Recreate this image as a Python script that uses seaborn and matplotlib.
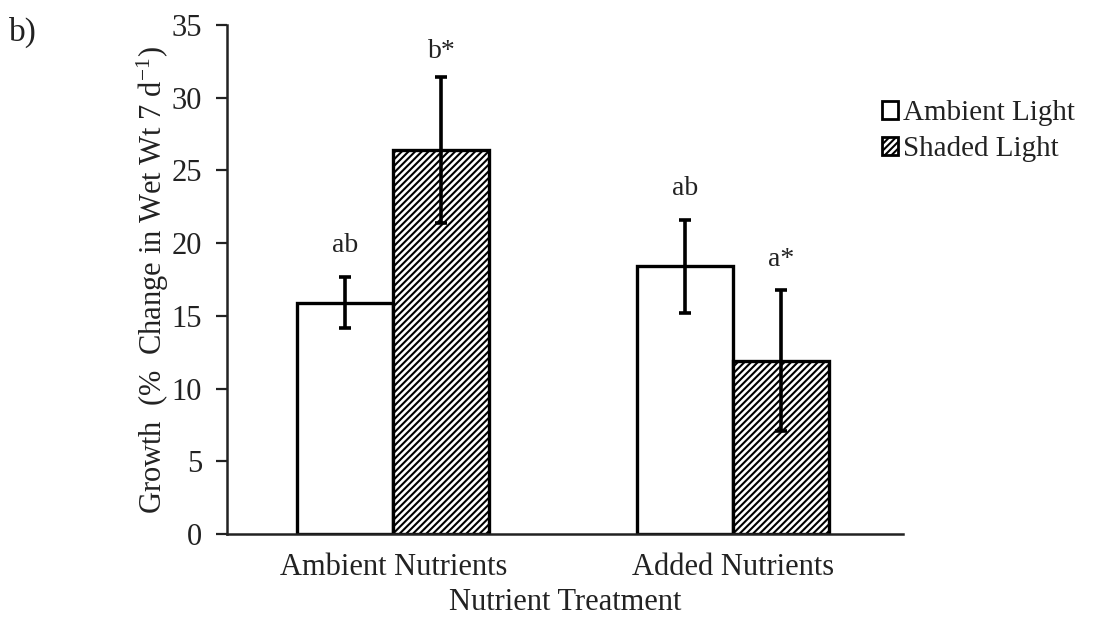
import matplotlib
matplotlib.use("Agg")
import matplotlib.pyplot as plt
from matplotlib.patches import Patch
import seaborn as sns
import pandas as pd
import numpy as np

# Growth data (mean and error) per nutrient treatment and light condition
nutrients = ["Ambient Nutrients", "Added Nutrients"]
lights = ["Ambient Light", "Shaded Light"]
growth_ambient_light = [15.9, 18.4]
growth_shaded_light = [26.4, 11.9]
err_ambient_light = [1.75, 3.2]
err_shaded_light = [5.0, 4.85]
letters_ambient_light = ["ab", "ab"]
letters_shaded_light = ["b*", "a*"]

df = pd.DataFrame({
    "Nutrient": nutrients * 2,
    "Light": [lights[0]] * 2 + [lights[1]] * 2,
    "Growth": growth_ambient_light + growth_shaded_light,
})

sns.set_theme(style="ticks")
plt.rcParams["font.family"] = ["Liberation Serif", "DejaVu Serif"]
plt.rcParams["hatch.linewidth"] = 1.5
plt.rcParams["hatch.color"] = "black"
plt.rcParams["mathtext.fontset"] = "stix"

fig = plt.figure(figsize=(11.03, 6.32), dpi=100)
ax = fig.add_axes([0.2058, 0.155, 0.6129, 0.8055])

sns.barplot(data=df, x="Nutrient", y="Growth", hue="Light", order=nutrients,
            hue_order=lights, palette=["white", "white"], edgecolor="black",
            linewidth=2.4, width=0.565, errorbar=None, ax=ax, legend=False)

# hatch the shaded-light bars
n = len(nutrients)
bars = ax.patches[:2 * n]
for p in bars[n:]:
    p.set_hatch("/////")

means = growth_ambient_light + growth_shaded_light
errs = err_ambient_light + err_shaded_light
letters = letters_ambient_light + letters_shaded_light
for p, m, e, lab in zip(bars, means, errs, letters):
    xc = p.get_x() + p.get_width() / 2
    ax.errorbar(xc, m, yerr=e, fmt="none", ecolor="black", elinewidth=2.6,
                capsize=4.5, capthick=2.6, zorder=5)
    # keep the letter below the top of the axis
    ty = min(m + e + 1.3, 32.3)
    ax.text(xc, ty, lab, ha="center", va="bottom", fontsize=20,
            color="#222222")

ax.set_xlim(-0.49, 1.5)
ax.set_ylim(0, 35)
ax.set_yticks(np.arange(0, 36, 5))
ax.tick_params(axis="y", length=8, width=1.6, labelsize=22, pad=10, colors="#222222")
ax.tick_params(axis="x", length=0, labelsize=22, pad=14, colors="#222222")
for s in ["top", "right"]:
    ax.spines[s].set_visible(False)
for s in ["left", "bottom"]:
    ax.spines[s].set_linewidth(1.8)
    ax.spines[s].set_color("#222222")

ax.set_xlabel("Nutrient Treatment", fontsize=22, color="#222222", labelpad=4)
ax.set_ylabel("Growth  (%  Change in Wet Wt 7 d$^{\\mathregular{-1}}$)", fontsize=22,
              color="#222222", labelpad=0)

handles = [Patch(facecolor="white", edgecolor="black", linewidth=2.0),
           Patch(facecolor="white", edgecolor="black", linewidth=2.0, hatch="/////")]
fig.legend(handles, lights, loc="upper left", bbox_to_anchor=(0.776, 0.883),
           frameon=False, fontsize=21, handlelength=0.55, handleheight=0.55,
           handletextpad=0.15, labelspacing=0.35, labelcolor="#222222")

fig.text(0.008, 0.935, "b)", fontsize=24, color="#222222")

fig.savefig("out.png", dpi=100)
